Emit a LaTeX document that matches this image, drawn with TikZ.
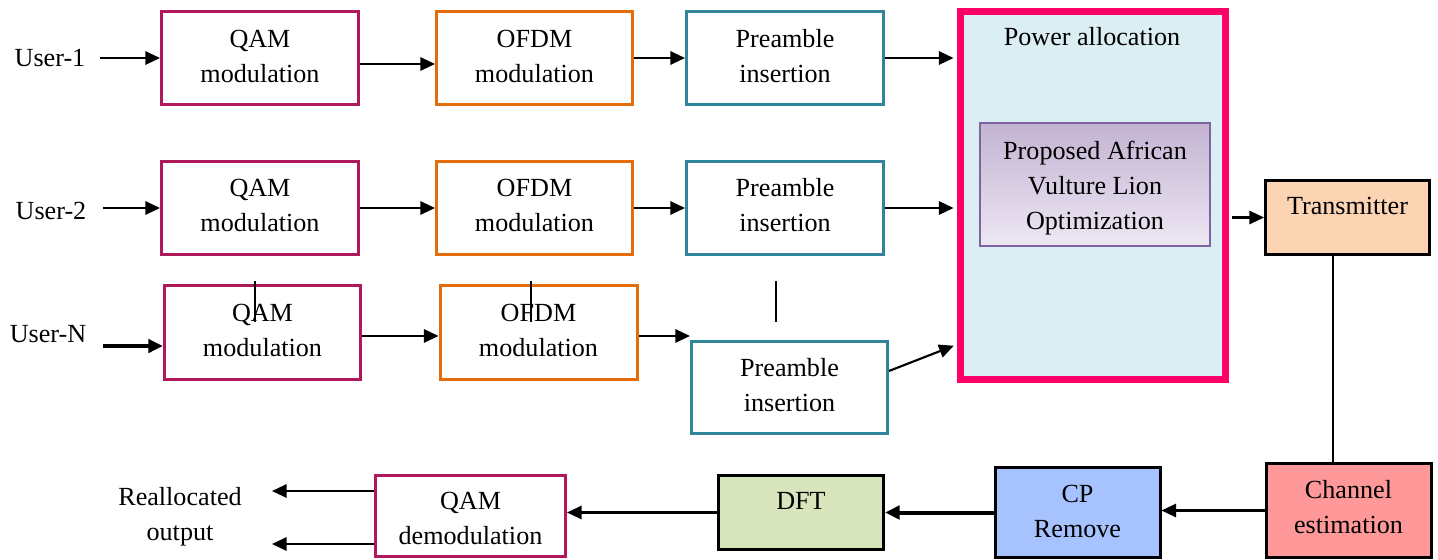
\documentclass[tikz,border=0pt]{standalone}
\usepackage{fontspec}
\setmainfont{Liberation Serif}
\usetikzlibrary{arrows.meta,fit,calc}

\definecolor{qamc}{RGB}{176,24,92}
\definecolor{ofdmc}{RGB}{228,108,10}
\definecolor{prec}{RGB}{49,133,155}
\definecolor{pinkc}{RGB}{255,0,102}
\definecolor{pafill}{RGB}{218,238,243}
\definecolor{optdraw}{RGB}{128,100,162}
\definecolor{opttop}{RGB}{195,179,210}
\definecolor{optbot}{RGB}{237,231,243}
\definecolor{txfill}{RGB}{251,212,180}
\definecolor{chfill}{RGB}{255,153,153}
\definecolor{cpfill}{RGB}{166,195,255}
\definecolor{dftfill}{RGB}{215,228,188}

\begin{document}
\begin{tikzpicture}[x=0.75pt,y=-0.75pt,
  every node/.style={font=\fontsize{19.6}{26.25}\selectfont, align=center},
  blk/.style={inner sep=0pt, line width=2.25pt},
  qam/.style={blk, draw=qamc},
  ofdm/.style={blk, draw=ofdmc},
  pre/.style={blk, draw=prec},
  dark/.style={blk, draw=black},
  arr/.style={line width=1.6pt, -{Triangle[length=11pt,width=10pt]}},
  wire/.style={line width=1.6pt},
  txt/.style={inner sep=0pt}]

\useasboundingbox (0,0) rectangle (1438,560);

% transmitter chains, one row per user
\node[qam,  fit={(161.5,11.5) (358.5,104.5)}] (q1) {};
\node[ofdm, fit={(436.5,11.5) (632.5,104.5)}] (o1) {};
\node[pre,  fit={(686.5,11.5) (883.5,104.5)}] (p1) {};
\node[txt] (q1t) at ([yshift=1.5pt]q1.center) {QAM\\modulation};
\node[txt] (o1t) at ([yshift=1.5pt]o1.center) {OFDM\\modulation};
\node[txt] (p1t) at ([yshift=1.5pt]p1.center) {Preamble\\insertion};

\node[qam,  fit={(161.5,161.5) (358.5,254.5)}] (q2) {};
\node[ofdm, fit={(436.5,161.5) (632.5,254.5)}] (o2) {};
\node[pre,  fit={(686.5,161.5) (883.5,254.5)}] (p2) {};
\node[txt] (q2t) at ([yshift=2pt]q2.center) {QAM\\modulation};
\node[txt] (o2t) at ([yshift=2pt]o2.center) {OFDM\\modulation};
\node[txt] (p2t) at ([yshift=2pt]p2.center) {Preamble\\insertion};

\node[qam,  fit={(164.5,285.5) (360.5,379.5)}] (q3) {};
\node[ofdm, fit={(440,285.5) (637,379.5)}] (o3) {};
\node[pre,  fit={(691.5,341.5) (887.5,433.5)}] (p3) {};
\node[txt] (q3t) at ([yshift=1.8pt]q3.center) {QAM\\modulation};
\node[txt] (o3t) at ([yshift=1.8pt]o3.center) {OFDM\\modulation};
\node[txt] (p3t) at ([yshift=1.5pt]p3.center) {Preamble\\insertion};

% power allocation block with the optimiser inside
\node[inner sep=0pt, line width=5.25pt, draw=pinkc, fill=pafill,
      fit={(960.5,11.5) (1225.5,379.5)}] (pa) {};
\node[txt] (patitle) at (1092,37) {Power allocation};
\node[inner sep=0pt, line width=1.5pt, draw=optdraw, top color=opttop, bottom color=optbot,
      fit={(980,123) (1210,246)}] (opt) {};
\node[txt] (optt) at ([yshift=-2.75pt]opt.center) {Proposed African\\Vulture Lion\\Optimization};

% transmitter and receiver chain
\node[dark, fill=txfill, fit={(1265.5,180.5) (1429.5,254.5)}] (tx) {};
\node[txt] (txt) at ([yshift=9pt]tx.center) {Transmitter};
\node[dark, fill=chfill, fit={(1266,463.5) (1431,557.5)}] (ch) {};
\node[txt] (cht) at ([yshift=2.5pt]ch.center) {Channel\\estimation};
\node[dark, fill=cpfill, fit={(995,467.5) (1160,557.5)}] (cp) {};
\node[txt] (cpt) at ([yshift=1pt]cp.center) {CP\\Remove};
\node[dark, fill=dftfill, fit={(718.5,475.5) (883.5,549.5)}] (dft) {};
\node[txt] (dftt) at ([yshift=9pt]dft.center) {DFT};
\node[qam, fit={(375.5,475.5) (565.5,556)}] (qd) {};
\node[txt] (qdt) at ([yshift=-2.25pt]qd.center) {QAM\\demodulation};

% user inputs and output label
\node[txt] (u1) at (50,58) {User-1};
\node[txt] (u2) at (51,211) {User-2};
\node[txt] (uN) at (48,334) {User-N};
\node[txt] (out) at (180,517) {Reallocated\\output};

\coordinate (uNa) at (103,346);
\coordinate (r1) at (272,491);
\coordinate (r2) at (272,544);
\coordinate (vx) at (1333,0);

% row 1
\draw[arr] ([xshift=11pt]u1.east |- q1.west) -- (q1.west);
\draw[arr] ([yshift=-4.5pt]q1.east) -- ([yshift=-4.5pt]o1.west);
\draw[arr] (o1.east) -- (p1.west);
\draw[arr, shorten >=2.6pt] (p1.east) -- (p1.east -| pa.west);

% row 2
\draw[arr] ([xshift=12pt]u2.east |- q2.west) -- (q2.west);
\draw[arr] (q2.east) -- (o2.west);
\draw[arr] (o2.east) -- (p2.west);
\draw[arr, shorten >=2.6pt] (p2.east) -- (p2.east -| pa.west);

% row N
\draw[arr, line width=2.6pt] (uNa) -- (uNa -| q3.west);
\draw[arr] ([yshift=-2.6pt]q3.east) -- ([yshift=-2.6pt]o3.west);
\draw[arr] ([yshift=-2.6pt]o3.east) coordinate (o3r) -- (o3r -| p3.west);
\draw[arr, shorten >=2.6pt] ([yshift=12.4pt]p3.east) -- ([yshift=28.9pt]pa.south west);

% continuation marks between rows
\draw[wire] (255,281) -- (255,322);
\draw[wire] (531,281) -- (531,322);
\draw[wire] (776,281) -- (776,322);

% to transmitter, through the channel and back
\draw[arr, shorten <=2.6pt] (pa.east |- tx.west) -- (tx.west);
\draw[wire] (tx.south -| vx) -- (ch.north -| vx);
\draw[arr] (ch.west) -- (ch.west -| cp.east);
\draw[arr, line width=3pt] (cp.west) -- (cp.west -| dft.east);
\draw[arr] (dft.west) -- (dft.west -| qd.east);
\draw[arr] (qd.west |- r1) -- (r1);
\draw[arr] (qd.west |- r2) -- (r2);

\end{tikzpicture}
\end{document}
